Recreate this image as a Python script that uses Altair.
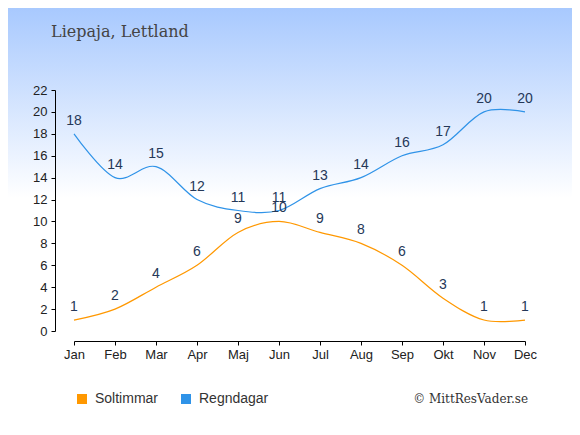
import altair as alt
import pandas as pd

# ---- data ----
months = ["Jan", "Feb", "Mar", "Apr", "Maj", "Jun", "Jul", "Aug", "Sep", "Okt", "Nov", "Dec"]
sun_hours = [1, 2, 4, 6, 9, 10, 9, 8, 6, 3, 1, 1]
rain_days = [18, 14, 15, 12, 11, 11, 13, 14, 16, 17, 20, 20]
series_names = ["Soltimmar", "Regndagar"]
series_colors = ["#ff9800", "#2f93e8"]
y_ticks = [0, 2, 4, 6, 8, 10, 12, 14, 16, 18, 20, 22]
title_text = "Liepaja, Lettland"
credit_text = "© MittResVader.se"

rows = []
for i, m in enumerate(months):
    rows.append({"month": m, "series": series_names[0], "value": sun_hours[i]})
    rows.append({"month": m, "series": series_names[1], "value": rain_days[i]})
df = pd.DataFrame(rows)

W, H = 451, 241
PL, PT, PR, PB = 66, 82, 47, 91

x_enc = alt.X(
    "month:N", sort=months,
    scale=alt.Scale(type="point", padding=0),
    axis=alt.Axis(title=None, offset=10, labelAngle=0, tickSize=4, labelPadding=3,
                  domainColor="#000", tickColor="#000", labelColor="#222",
                  labelFont="Liberation Sans", labelFontSize=13, grid=False, zindex=2),
)
y_enc = alt.Y(
    "value:Q",
    scale=alt.Scale(domain=[0, 22], nice=False, zero=True),
    axis=alt.Axis(title=None, offset=19, values=y_ticks, tickSize=4, labelPadding=4,
                  domainColor="#000", tickColor="#000", labelColor="#222",
                  labelFont="Liberation Sans", labelFontSize=13, grid=False, zindex=2),
)
color_scale = alt.Scale(domain=series_names, range=series_colors)

base = alt.Chart(df)

lines = base.mark_line(interpolate="cardinal", strokeWidth=1.2).encode(
    x=x_enc, y=y_enc,
    stroke=alt.Stroke("series:N", scale=color_scale, legend=None),
)

legend_pts = base.mark_point(filled=True, shape="square", opacity=0, size=1).encode(
    x=x_enc, y=y_enc,
    color=alt.Color(
        "series:N", scale=color_scale,
        legend=alt.Legend(
            orient="none", legendX=1, legendY=302, direction="horizontal",
            title=None, symbolType="square", symbolSize=100, symbolOpacity=1,
            symbolStrokeWidth=0, labelFont="Liberation Sans", labelFontSize=14,
            labelColor="#333", labelOffset=6, columnPadding=20, padding=0, zindex=2,
        ),
    ),
)

labels = base.mark_text(dy=-13, fontSize=14, font="Liberation Sans", color="#253858",
                        baseline="middle").encode(
    x=x_enc, y=y_enc, text="value:Q",
)

gradient = {
    "gradient": "linear", "x1": 0, "y1": 0, "x2": 0, "y2": 1,
    "stops": [
        {"offset": 0, "color": "#a8c9fe"},
        {"offset": 0.46, "color": "#ffffff"},
        {"offset": 1, "color": "#ffffff"},
    ],
}
bg = alt.Chart(pd.DataFrame({"k": [0]})).mark_rect(color=gradient).encode(
    x=alt.value(-PL), x2=alt.value(W + PR), y=alt.value(-PT), y2=alt.value(H + PB)
)

title = alt.Chart(pd.DataFrame({"t": [title_text]})).mark_text(
    align="left", baseline="alphabetic", font="DejaVu Serif", fontSize=16, color="#444"
).encode(x=alt.value(-23), y=alt.value(-53), text="t:N")

credit = alt.Chart(pd.DataFrame({"t": [credit_text]})).mark_text(
    align="right", baseline="alphabetic", font="DejaVu Serif", fontSize=12, color="#333"
).encode(x=alt.value(454), y=alt.value(313), text="t:N")

chart = alt.layer(bg, title, credit, lines, legend_pts, labels).properties(
    width=W, height=H,
    autosize=alt.AutoSizeParams(type="none"),
    padding={"left": PL, "top": PT, "right": PR, "bottom": PB},
).resolve_scale(color="independent", stroke="independent").configure_view(
    strokeWidth=0).configure(background="white")

chart.save("out.html", embed_options={"renderer": "svg", "actions": False})
